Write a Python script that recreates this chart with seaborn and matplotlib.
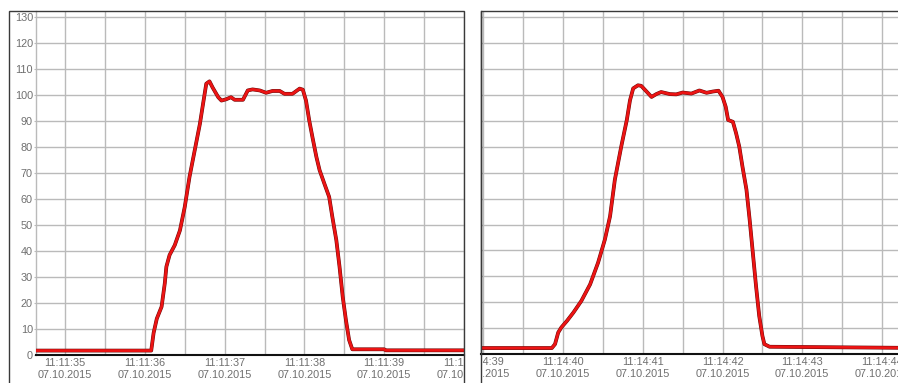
import numpy as np
import pandas as pd
import seaborn as sns
import matplotlib
matplotlib.use("Agg")
import matplotlib.pyplot as plt
from matplotlib.patches import Rectangle
from matplotlib.transforms import Bbox, TransformedBbox
import matplotlib.patheffects as pe

# ---------------- data ----------------
left_t = [34.64, 36.08, 36.11, 36.15, 36.21, 36.25, 36.27, 36.31, 36.375, 36.44,
          36.5, 36.56, 36.625, 36.69, 36.73, 36.77, 36.81, 36.85, 36.92, 36.96,
          37.02, 37.08, 37.125, 37.23, 37.29, 37.35, 37.44, 37.52, 37.6, 37.69,
          37.75, 37.85, 37.94, 37.98, 38.02, 38.06, 38.1, 38.15, 38.19, 38.25,
          38.31, 38.35, 38.4, 38.44, 38.48, 38.52, 38.56, 38.6, 39.0, 39.02, 40.0]
left_v = [1.7, 1.7, 8.5, 14, 18.6, 27.6, 34, 38.5, 42.3, 48,
          57, 68.6, 78.8, 89, 96.8, 104.5, 105.4, 103, 99.3, 98,
          98.5, 99.3, 98.3, 98.3, 101.9, 102.3, 101.9, 101, 101.7, 101.7,
          100.6, 100.6, 102.6, 102.2, 98, 90.4, 84, 76.3, 71.2, 66,
          60.9, 53.2, 44.2, 34, 22.4, 13.5, 5.8, 2.2, 2.2, 1.8, 1.8]

right_t = [38.97, 39.86, 39.9, 39.94, 39.98, 40.05, 40.13, 40.23, 40.34, 40.44,
           40.525, 40.59, 40.65, 40.73, 40.8, 40.84, 40.88, 40.94, 40.98, 41.05,
           41.11, 41.17, 41.23, 41.34, 41.42, 41.5, 41.61, 41.71, 41.8, 41.88,
           41.95, 42.0, 42.04, 42.07, 42.13, 42.17, 42.21, 42.25, 42.3, 42.34,
           42.38, 42.42, 42.46, 42.5, 42.525, 42.59, 44.2]
right_v = [2.3, 2.3, 3.8, 8.3, 10.3, 12.8, 16, 20.5, 26.9, 35.3,
           44.2, 53.2, 67.3, 80.1, 90.4, 98, 102.6, 103.8, 103.6, 101.3,
           99.3, 100.4, 101.2, 100.4, 100.3, 101, 100.6, 101.8, 100.9, 101.4,
           101.7, 99.3, 95.5, 90.4, 89.7, 85.3, 80.1, 72.4, 63.5, 51.9,
           39.1, 26.3, 14.7, 7, 3.8, 2.8, 2.4]

left_ticks = [35, 36, 37, 38, 39, 40]
left_tick_labels = ["11:11:35\n07.10.2015", "11:11:36\n07.10.2015", "11:11:37\n07.10.2015",
                    "11:11:38\n07.10.2015", "11:11:39\n07.10.2015", "11:11:40\n07.10.2015"]
right_ticks = [39, 40, 41, 42, 43, 44]
right_tick_labels = ["11:14:39\n07.10.2015", "11:14:40\n07.10.2015", "11:14:41\n07.10.2015",
                     "11:14:42\n07.10.2015", "11:14:43\n07.10.2015", "11:14:44\n07.10.2015"]
y_ticks = list(range(0, 131, 10))

# ---------------- style ----------------
sns.set_style("white")
plt.rcParams["font.family"] = ["Liberation Sans", "DejaVu Sans"]

W, H = 898, 383
fig = plt.figure(figsize=(W / 100, H / 100), dpi=100)
fig.patch.set_facecolor("white")

GRID = "#bababa"
TXT = "#6f6f6f"
FRAME = "#3a3a3a"


def setup(ax, t, v, xlim, ticks, labels, clip_x, show_y):
    df = pd.DataFrame({"t": t, "v": v})
    sns.lineplot(data=df, x="t", y="v", ax=ax, color="#ec1414", lw=2.0, zorder=5,
                 estimator=None, sort=False)
    ax.lines[-1].set_path_effects([pe.Stroke(linewidth=2.7, foreground="#6a0808"), pe.Normal()])
    ax.set_xlim(*xlim)
    ax.set_ylim(0, 132.5)
    half = np.arange(ticks[0] - 0.5, ticks[-1] + 0.51, 0.5)
    half = [h for h in half if xlim[0] < h <= xlim[1] + 1e-6]
    ax.set_xticks(half)
    lab_map = dict(zip(ticks, labels))
    ax.set_xticklabels([lab_map.get(h, "") if abs(h - round(h)) < 1e-6 else "" for h in half])
    ax.set_yticks(y_ticks)
    if show_y:
        ax.set_yticklabels([str(y) for y in y_ticks])
    else:
        ax.set_yticklabels([])
    ax.grid(True, color=GRID, lw=1.0)
    ax.set_axisbelow(True)
    ax.set_xlabel("")
    ax.set_ylabel("")
    ax.tick_params(axis="x", length=0, pad=2.5, labelsize=7.8, labelcolor=TXT)
    ax.tick_params(axis="y", length=1.6 if show_y else 0, color=GRID, pad=0.6,
                   labelsize=7.8, labelcolor=TXT, left=show_y)
    for lbl in ax.get_xticklabels():
        lbl.set_linespacing(1.25)
    clip = TransformedBbox(Bbox.from_extents(clip_x[0] / W, 0, clip_x[1] / W, 1), fig.transFigure)
    for lbl in ax.get_xticklabels() + ax.get_yticklabels():
        lbl.set_clip_box(clip)
        lbl.set_clip_on(True)
    for s in ["top", "right"]:
        ax.spines[s].set_visible(False)
    ax.spines["bottom"].set_color("#111111")
    ax.spines["bottom"].set_linewidth(1.5)
    if show_y:
        ax.spines["left"].set_color(GRID)
        ax.spines["left"].set_linewidth(1.0)
    else:
        ax.spines["left"].set_color(FRAME)
        ax.spines["left"].set_linewidth(1.0)


ax1 = fig.add_axes([36 / W, (H - 355) / H, 428 / W, 344 / H])
setup(ax1, left_t, left_v, (34.636, 40.0), left_ticks, left_tick_labels, (9, 464), True)

ax2 = fig.add_axes([481 / W, (H - 354) / H, 417 / W, 343 / H])
setup(ax2, right_t, right_v, (38.972, 44.2), right_ticks, right_tick_labels, (481, 898), False)

# outer frames of the two panels
for x0, x1 in [(9, 464), (481, 920)]:
    r = Rectangle((x0 / W, -0.1), (x1 - x0) / W, (H - 11) / H + 0.1,
                  transform=fig.transFigure, fill=False, edgecolor=FRAME, lw=1.0, zorder=20)
    fig.add_artist(r)

fig.savefig("out.png", dpi=100, facecolor="white")
